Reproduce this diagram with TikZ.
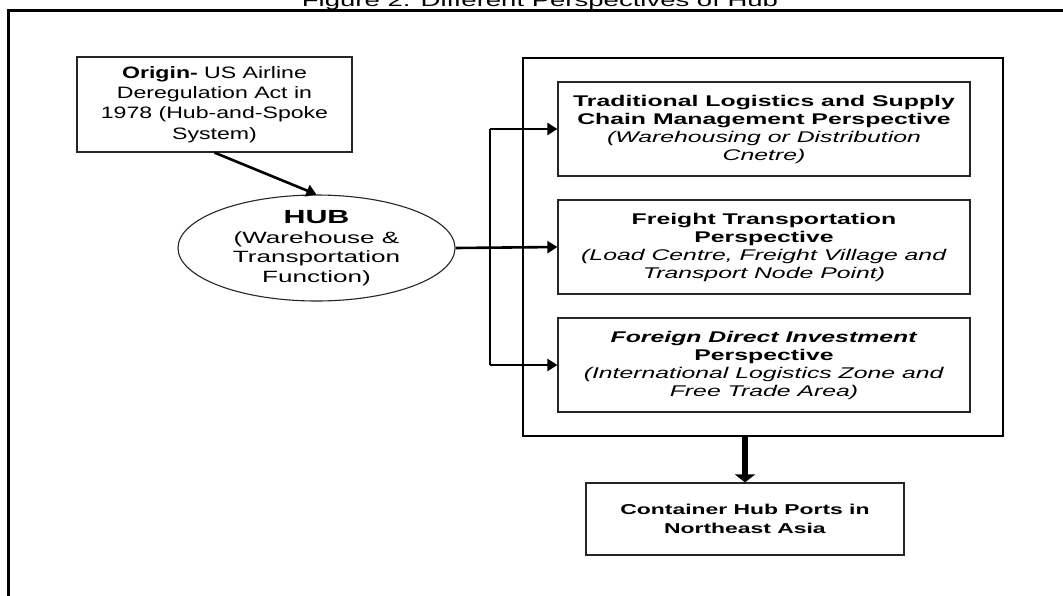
\documentclass[tikz,border=0pt]{standalone}
\usepackage{fontspec}
\setmainfont{Liberation Sans}[FakeStretch=1.4]
\newfontfamily\widefont{Liberation Sans}[FakeStretch=1.6]
\usetikzlibrary{arrows.meta,shapes.geometric}
\begin{document}
\begin{tikzpicture}[x=1pt,y=-1pt,
  thinbox/.style={draw=black!85,line width=1.2pt,inner sep=0pt,align=center,
    font=\widefont\fontsize{15.5}{18}\selectfont},
  conn/.style={line width=2.6pt,black},
  tip/.style={-{Triangle[length=10pt,width=12pt]}},
  bigtip/.style={-{Triangle[length=8pt,width=20pt]}}]
\useasboundingbox (0,0) rectangle (1063,595);
\clip (0,0) rectangle (1063,595);
\fill[white] (0,0) rectangle (1063,595);
% title (cut at the top, as in the reference)
\node[anchor=base,inner sep=0pt,font=\widefont\fontsize{17.2}{20}\selectfont] (title) at (540,6) {Figure 2. Different Perspectives of Hub};
% outer frame
\draw[line width=2.7pt] (8.7,610) -- (8.7,10.5) -- (1075,10.5);
% origin box
\node[thinbox,minimum width=275pt,minimum height=95pt,font=\fontsize{16.5}{20.3}\selectfont] (origin) at (214.5,104.5)
  {\textbf{Origin-} US Airline\\Deregulation Act in\\1978 (Hub-and-Spoke\\System)};
% hub ellipse
\node[draw=black!85,line width=1.1pt,ellipse,minimum width=277pt,minimum height=94pt,inner sep=0pt,align=center,
  font=\widefont\fontsize{16.3}{19.5}\selectfont] (hub) at (316.5,248)
  {{\fontsize{19}{19.5}\selectfont\textbf{HUB}}\\(Warehouse \&\\Transportation\\Function)};
% container of perspectives
\node[draw,line width=2pt,minimum width=480pt,minimum height=378pt,inner sep=0pt] (persp) at (763,247) {};
\node[thinbox,minimum width=412pt,minimum height=94pt] (box1) at (764,129)
  {\textbf{Traditional Logistics and Supply}\\\textbf{Chain Management Perspective}\\\textit{(Warehousing or Distribution}\\\textit{Cnetre)}};
\node[thinbox,minimum width=412pt,minimum height=94pt] (box2) at (764,247)
  {\textbf{Freight Transportation}\\\textbf{Perspective}\\\textit{(Load Centre, Freight Village and}\\\textit{Transport Node Point)}};
\node[thinbox,minimum width=412pt,minimum height=94pt] (box3) at (764,365)
  {\textbf{\textit{Foreign Direct Investment}}\\\textbf{Perspective}\\\textit{(International Logistics Zone and}\\\textit{Free Trade Area)}};
% ports
\node[thinbox,minimum width=318pt,minimum height=72pt,font=\widefont\fontsize{14.3}{18.3}\selectfont] (ports) at (745,519)
  {\textbf{Container Hub Ports in}\\\textbf{Northeast Asia}};
% connectors
\coordinate (jt) at (490,129);
\coordinate (jb) at (490,365);
\draw[conn,tip] (origin.south) -- (hub.north);
\draw[conn,tip] (hub.east) -- (box2.west);
\draw[conn] (jt) -- (jb);
\draw[conn,tip] (jt) -- (box1.west);
\draw[conn,tip] (jb) -- (box3.west);
\draw[line width=5.5pt,bigtip] (ports.north |- persp.south) -- (ports.north);
\end{tikzpicture}
\end{document}
